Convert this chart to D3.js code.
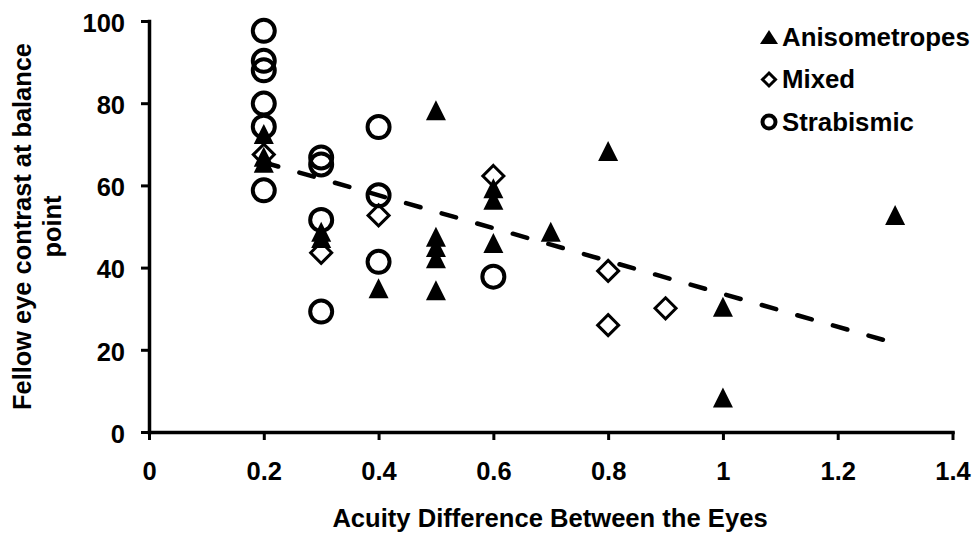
<!DOCTYPE html>
<html>
<head>
<meta charset="utf-8">
<script src="https://cdn.jsdelivr.net/npm/d3@7"></script>
<style>
body { margin: 0; background: #fff; }
svg { display: block; }
</style>
</head>
<body>
<svg id="mysvg"></svg>
<script>
// tick labels
var xTicks = [0, 0.2, 0.4, 0.6, 0.8, 1, 1.2, 1.4];
var yTicks = [0, 20, 40, 60, 80, 100];

// Anisometropes (filled triangles)
var anisoX = [0.2, 0.2, 0.2, 0.3, 0.3, 0.4, 0.5, 0.5, 0.5, 0.5, 0.5, 0.6, 0.6, 0.6, 0.7, 0.8, 1.0, 1.0, 1.3];
var anisoY = [72.5, 67, 65.5, 48.7, 47.2, 35, 78.3, 47.5, 45, 42.3, 34.5, 59.3, 56.5, 46, 48.7, 68.4, 30.5, 8.4, 52.8];

// Mixed (open diamonds)
var mixedX = [0.2, 0.3, 0.4, 0.6, 0.8, 0.8, 0.9];
var mixedY = [67.5, 43.6, 52.7, 62.3, 39.2, 26, 30.1];

// Strabismic (open circles)
var strabX = [0.2, 0.2, 0.2, 0.2, 0.2, 0.2, 0.3, 0.3, 0.3, 0.3, 0.4, 0.4, 0.4, 0.6];
var strabY = [97.6, 90.3, 88, 79.9, 74.3, 58.8, 66.8, 65.1, 51.6, 29.3, 74.2, 57.6, 41.4, 37.8];

// linear trend line ends
var trendX = [0.2, 1.3];
var trendY = [65.6, 21.6];

var legendNames = ["Anisometropes", "Mixed", "Strabismic"];

var font = "'Liberation Sans', Arial, sans-serif";

function zip(xs, ys) {
    return xs.map(function(v, i) { return {x: v, y: ys[i]}; });
}

var svg = d3.select("svg");
svg.attr("width", 974);
svg.attr("height", 533);

var x = d3.scaleLinear().domain([0, 1.4]).range([149, 952.5]);
var y = d3.scaleLinear().domain([0, 100]).range([432, 21]);

var triPath = function(s) { return "M0," + (-s) + "L" + s + "," + s + "L" + (-s) + "," + s + "Z"; };
var diaPath = function(s) { return "M0," + (-s) + "L" + s + ",0L0," + s + "L" + (-s) + ",0Z"; };

// axes
var gx = svg.append("g")
    .attr("transform", "translate(0,432)")
    .call(d3.axisBottom(x).tickValues(xTicks).tickSize(8).tickSizeOuter(0).tickPadding(22)
        .tickFormat(function(d) { return d3.format("~g")(d); }));

var gy = svg.append("g")
    .attr("transform", "translate(149,0)")
    .call(d3.axisLeft(y).tickValues(yTicks).tickSize(8).tickSizeOuter(0).tickPadding(16));

[gx, gy].forEach(function(g) {
    g.attr("font-family", font).attr("font-size", 25.5).attr("font-weight", "bold").attr("color", "#000");
    g.select(".domain").attr("stroke-width", 3.5).attr("stroke-linecap", "square");
    g.selectAll(".tick line").attr("stroke-width", 3);
});
gy.selectAll(".tick text").attr("dy", "0.4em");

// axis titles
svg.append("text")
    .attr("x", 550)
    .attr("y", 527)
    .attr("text-anchor", "middle")
    .attr("font-family", font)
    .attr("font-weight", "bold")
    .attr("font-size", "25.6px")
    .text("Acuity Difference Between the Eyes");

var ytitle = svg.append("text")
    .attr("transform", "translate(0,226.5) rotate(-90)")
    .attr("text-anchor", "middle")
    .attr("font-family", font)
    .attr("font-weight", "bold")
    .attr("font-size", "25.4px");
ytitle.append("tspan").attr("x", 0).attr("y", 31).text("Fellow eye contrast at balance");
ytitle.append("tspan").attr("x", 0).attr("y", 61).text("point");

// trend line
svg.append("path")
    .datum(zip(trendX, trendY))
    .attr("fill", "none")
    .attr("stroke", "#000")
    .attr("stroke-width", 4.5)
    .attr("stroke-linecap", "round")
    .attr("stroke-dasharray", "15,22")
    .attr("d", d3.line()
        .x(function(d) { return x(d.x); })
        .y(function(d) { return y(d.y); }));

// points
svg.append("g")
    .selectAll("path")
    .data(zip(anisoX, anisoY))
    .enter()
    .append("path")
    .attr("transform", function(d) { return "translate(" + x(d.x) + "," + y(d.y) + ")"; })
    .attr("d", triPath(10))
    .attr("fill", "#000");

svg.append("g")
    .selectAll("path")
    .data(zip(mixedX, mixedY))
    .enter()
    .append("path")
    .attr("transform", function(d) { return "translate(" + x(d.x) + "," + y(d.y) + ")"; })
    .attr("d", diaPath(10.5))
    .attr("fill", "none")
    .attr("stroke", "#000")
    .attr("stroke-width", 3);

svg.append("g")
    .selectAll("circle")
    .data(zip(strabX, strabY))
    .enter()
    .append("circle")
    .attr("cx", function(d) { return x(d.x); })
    .attr("cy", function(d) { return y(d.y); })
    .attr("r", 11)
    .attr("fill", "none")
    .attr("stroke", "#000")
    .attr("stroke-width", 4);

// legend
var legend = svg.append("g").attr("transform", "translate(769,0)");
legendNames.forEach(function(name, i) {
    var cy = 37 + i * 42.5;
    var item = legend.append("g").attr("transform", "translate(0," + cy + ")");
    if (i == 0) {
        item.append("path").attr("d", "M0,-7L9,7L-9,7Z").attr("fill", "#000");
    } else if (i == 1) {
        item.append("path").attr("d", diaPath(6.5)).attr("fill", "none").attr("stroke", "#000").attr("stroke-width", 3);
    } else {
        item.append("circle").attr("r", 6.5).attr("fill", "none").attr("stroke", "#000").attr("stroke-width", 4);
    }
    item.append("text")
        .attr("x", 13)
        .attr("y", 8.5)
        .attr("font-family", font)
        .attr("font-weight", "bold")
        .attr("font-size", "25.8px")
        .text(name);
});
</script>
</body>
</html>
